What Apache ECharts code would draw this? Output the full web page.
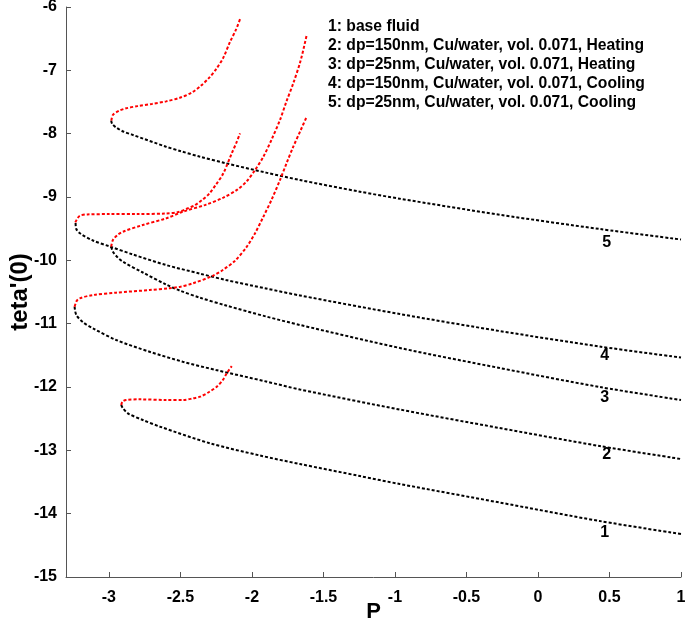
<!DOCTYPE html>
<html>
<head>
<meta charset="utf-8">
<script src="https://cdn.jsdelivr.net/npm/echarts@6/dist/echarts.min.js"></script>
<style>html,body{margin:0;padding:0;background:#fff}#c{width:685px;height:627px}</style>
</head>
<body>
<div id="c"></div>
<script>
// ---- data ----
const xTickValues = [-3, -2.5, -2, -1.5, -1, -0.5, 0, 0.5, 1];
const legendLines = [
  "1: base fluid",
  "2: dp=150nm, Cu/water, vol. 0.071, Heating",
  "3: dp=25nm, Cu/water, vol. 0.071, Heating",
  "4: dp=150nm, Cu/water, vol. 0.071, Cooling",
  "5: dp=25nm, Cu/water, vol. 0.071, Cooling"
];
const curveNames = ["1", "2", "3", "4", "5"];
const curveLabelP = [0.466, 0.48, 0.466, 0.466, 0.48];
const curveLabelY = [-14.305, -13.07, -12.17, -11.51, -9.726];

// upper (red) branches, from turning point upward
const upper1 = [[-2.914,-12.284],[-2.905,-12.23],[-2.88,-12.205],[-2.786,-12.195],[-2.6,-12.205],[-2.48,-12.205],[-2.413,-12.18],[-2.362,-12.153],[-2.297,-12.075],[-2.246,-11.995],[-2.204,-11.89],[-2.176,-11.784],[-2.141,-11.67]];
const upper2 = [[-3.24,-10.732],[-3.225,-10.64],[-3.205,-10.60],[-3.112,-10.548],[-2.949,-10.51],[-2.716,-10.469],[-2.577,-10.44],[-2.50,-10.416],[-2.413,-10.363],[-2.274,-10.245],[-2.204,-10.153],[-2.12,-10.01],[-2.036,-9.785],[-1.98,-9.58],[-1.92,-9.311],[-1.86,-9.03],[-1.804,-8.732],[-1.755,-8.45],[-1.711,-8.206],[-1.66,-7.95],[-1.617,-7.732]];
const upper3 = [[-2.984,-9.785],[-2.972,-9.68],[-2.94,-9.60],[-2.902,-9.548],[-2.763,-9.442],[-2.6,-9.337],[-2.483,-9.232],[-2.32,-9.12],[-2.20,-9.01],[-2.10,-8.88],[-2.036,-8.75],[-1.98,-8.58],[-1.92,-8.364],[-1.86,-8.08],[-1.804,-7.784],[-1.76,-7.50],[-1.711,-7.205],[-1.66,-6.85],[-1.617,-6.442]];
const upper4 = [[-3.235,-9.40],[-3.205,-9.30],[-3.15,-9.275],[-3.0,-9.27],[-2.8,-9.27],[-2.6,-9.26],[-2.52,-9.24],[-2.46,-9.19],[-2.40,-9.13],[-2.35,-9.05],[-2.30,-8.95],[-2.25,-8.80],[-2.20,-8.626],[-2.141,-8.31],[-2.11,-8.15],[-2.083,-7.995]];
const upper5 = [[-2.983,-7.795],[-2.972,-7.705],[-2.93,-7.64],[-2.88,-7.60],[-2.80,-7.565],[-2.70,-7.53],[-2.60,-7.49],[-2.50,-7.43],[-2.42,-7.35],[-2.36,-7.25],[-2.30,-7.12],[-2.25,-6.98],[-2.20,-6.80],[-2.153,-6.55],[-2.11,-6.35],[-2.083,-6.19]];

// lower (black) branches, from turning point to P = 1
const lower1 = [[-2.914,-12.284],[-2.902,-12.337],[-2.865,-12.419],[-2.763,-12.521],[-2.642,-12.627],[-2.293,-12.889],[-1.943,-13.082],[-1.664,-13.216],[-1.245,-13.406],[-0.966,-13.532],[-0.268,-13.824],[0.431,-14.116],[1,-14.321]];
const lower2 = [[-3.24,-10.732],[-3.228,-10.863],[-3.179,-10.982],[-3.112,-11.073],[-2.949,-11.258],[-2.716,-11.443],[-2.483,-11.601],[-2.251,-11.732],[-1.901,-11.913],[-1.664,-12.04],[-0.966,-12.356],[-0.268,-12.648],[0.431,-12.932],[1,-13.137]];
const lower3 = [[-2.984,-9.785],[-2.972,-9.864],[-2.942,-9.948],[-2.902,-10.022],[-2.763,-10.192],[-2.6,-10.382],[-2.502,-10.48],[-2.367,-10.587],[-2.181,-10.713],[-1.901,-10.887],[-1.664,-11.021],[-0.966,-11.384],[-0.268,-11.70],[0.431,-12.0],[1,-12.205]];
const lower4 = [[-3.233,-9.411],[-3.228,-9.505],[-3.2,-9.577],[-3.112,-9.687],[-2.989,-9.785],[-2.832,-9.908],[-2.6,-10.074],[-2.367,-10.208],[-2.181,-10.311],[-1.901,-10.445],[-1.664,-10.555],[-0.966,-10.848],[-0.268,-11.116],[0.431,-11.361],[1,-11.535]];
const lower5 = [[-2.984,-7.795],[-2.977,-7.847],[-2.949,-7.903],[-2.9,-7.966],[-2.832,-8.021],[-2.6,-8.206],[-2.502,-8.274],[-2.367,-8.361],[-2.181,-8.468],[-1.901,-8.615],[-1.664,-8.732],[-1.245,-8.916],[-0.966,-9.027],[-0.268,-9.28],[0.431,-9.505],[1,-9.671]];

const uppers = [upper1, upper2, upper3, upper4, upper5];
const lowers = [lower1, lower2, lower3, lower4, lower5];

// ---- chart ----
const FONT = '"Liberation Sans", Arial, sans-serif';
const chart = echarts.init(document.getElementById('c'), null, {renderer: 'canvas'});
const series = [];
lowers.forEach((d, i) => series.push({
  type: 'line', name: 'lower' + (i + 1), data: d, showSymbol: false, smooth: 0.3,
  lineStyle: {color: '#000', width: 2, type: [3, 2]}, silent: true, z: 2
}));
uppers.forEach((d, i) => series.push({
  type: 'line', name: 'upper' + (i + 1), data: d, showSymbol: false, smooth: 0.3,
  lineStyle: {color: '#ff0000', width: 2, type: [3, 2]}, silent: true, z: 3
}));
series.push({
  type: 'scatter', symbolSize: 1, silent: true, z: 5,
  itemStyle: {opacity: 1, color: 'rgba(0,0,0,0)'},
  data: curveNames.map((n, i) => ({name: n, value: [curveLabelP[i], curveLabelY[i]]})),
  label: {show: true, position: 'inside', formatter: p => p.name, color: '#000', opacity: 1,
    fontFamily: FONT, fontWeight: 'bold', fontSize: 16}
});

chart.setOption({
  animation: false,
  backgroundColor: '#fff',
  grid: {left: 66, right: 4, top: 7, bottom: 50, containLabel: false, outerBoundsMode: 'none'},
  xAxis: {
    type: 'value', min: -3.3, max: 1,
    name: 'P', nameLocation: 'middle', nameGap: 24, nameMoveOverlap: false,
    nameTextStyle: {fontFamily: FONT, fontWeight: 'bold', fontSize: 22, color: '#000', verticalAlign: 'top'},
    axisLine: {show: true, onZero: false, lineStyle: {color: '#555', width: 1}},
    axisTick: {show: true, inside: true, length: 5, customValues: xTickValues, lineStyle: {color: '#555'}},
    axisLabel: {customValues: xTickValues, margin: 13, fontFamily: FONT, fontWeight: 'bold', fontSize: 16, color: '#000'},
    splitLine: {show: false}
  },
  yAxis: {
    type: 'value', min: -15, max: -6, interval: 1,
    name: "teta'(0)", nameLocation: 'middle', nameGap: 34, nameRotate: 90, nameMoveOverlap: false,
    nameTextStyle: {fontFamily: FONT, fontWeight: 'bold', fontSize: 24, color: '#000'},
    axisLine: {show: true, onZero: false, lineStyle: {color: '#555', width: 1}},
    axisTick: {show: true, inside: true, length: 5, lineStyle: {color: '#555'}},
    axisLabel: {margin: 9, fontFamily: FONT, fontWeight: 'bold', fontSize: 16, color: '#000'},
    splitLine: {show: false}
  },
  graphic: legendLines.map((t, i) => ({
    type: 'text', left: 328, top: 19 + i * 18.8, silent: true,
    style: {text: t, fontFamily: FONT, fontWeight: 'bold', fontSize: 15.7, fill: '#000'}
  })),
  series: series
});
</script>
</body>
</html>
